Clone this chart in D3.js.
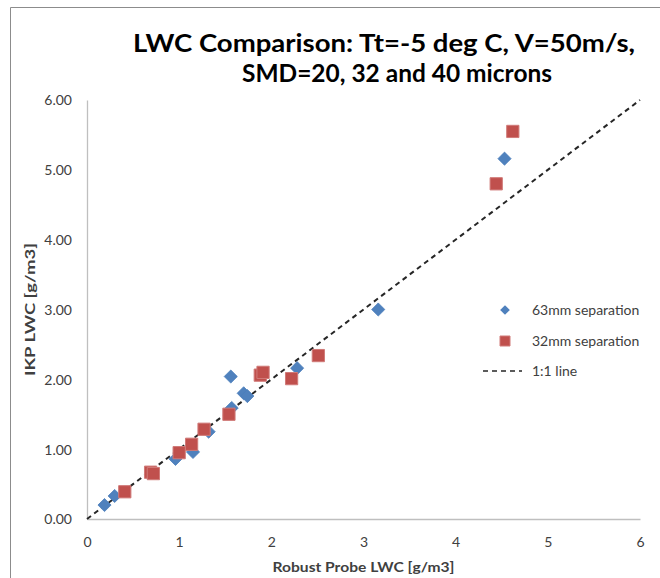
<!DOCTYPE html>
<html><head><meta charset="utf-8">
<script src="https://cdn.jsdelivr.net/npm/d3@7"></script>
<style>body{margin:0;background:#fff}svg{display:block}text{font-family:Lato,"Open Sans",sans-serif}</style>
</head><body><svg id="c" width="660" height="578"></svg>
<script>
const titleLines = ["LWC Comparison: Tt=-5 deg C, V=50m/s,", "SMD=20, 32 and 40 microns"];
const xLabel = "Robust Probe LWC [g/m3]";
const yLabel = "IKP LWC [g/m3]";
const xTicks = [0,1,2,3,4,5,6];
const yTicks = [0,1,2,3,4,5,6];
const series63x = [0.19,0.30,0.96,1.15,1.32,1.56,1.57,1.70,1.74,2.28,3.16,4.53];
const series63y = [0.20,0.33,0.86,0.96,1.25,2.04,1.59,1.80,1.76,2.16,3.00,5.16];
const series32x = [0.41,0.69,0.72,1.00,1.135,1.27,1.54,1.88,1.91,2.22,2.51,4.44,4.62];
const series32y = [0.39,0.67,0.65,0.95,1.07,1.285,1.50,2.06,2.10,2.01,2.34,4.80,5.55];
const legendNames = ["63mm separation","32mm separation","1:1 line"];
const oneToOne = [[0,0],[6,6]];

const svg = d3.select("#c");
const x = d3.scaleLinear().domain([0,6]).range([87,640]);
const y = d3.scaleLinear().domain([0,6]).range([519,100]);
const blue = "#4f81bd", red = "#c0504d";

svg.append("path").attr("d","M10.5,700 L10.5,7.5 L700,7.5").attr("fill","none").attr("stroke","#8c8c8c").attr("stroke-width",1);

const tW = [502, 310], tX = [133, 242], tY = [52, 82];
titleLines.forEach((t,i)=>{
  svg.append("text").attr("x",tX[i]).attr("y",tY[i]).attr("font-size",24).attr("font-weight","bold")
    .attr("fill","#000").attr("textLength",tW[i]).attr("lengthAdjust","spacingAndGlyphs").text(t);
});

const xa = svg.append("g").attr("transform",`translate(0,${y(0)})`).call(d3.axisBottom(x).tickValues(xTicks).tickSize(0).tickFormat(d3.format("d")));
const ya = svg.append("g").attr("transform",`translate(${x(0)},0)`).call(d3.axisLeft(y).tickValues(yTicks).tickSize(0).tickFormat(d3.format(".2f")));
[xa,ya].forEach(a=>{
  a.select(".domain").attr("stroke","#bfbfbf").attr("stroke-width",1.3);
  a.selectAll("text").attr("font-size",14).attr("fill","#404040").attr("font-family","Lato");
});
xa.selectAll("text").attr("dy","0").attr("y",28);
ya.selectAll("text").attr("x",-15).attr("dy","0.35em");

svg.append("text").attr("x",(x(0)+x(6))/2).attr("y",572).attr("text-anchor","middle").attr("font-size",14).attr("font-weight","bold").attr("fill","#404040")
  .attr("textLength",182).attr("lengthAdjust","spacingAndGlyphs").text(xLabel);
svg.append("text").attr("transform",`translate(35,${(y(0)+y(6))/2}) rotate(-90)`).attr("text-anchor","middle").attr("font-size",14).attr("font-weight","bold").attr("fill","#404040")
  .attr("textLength",133).attr("lengthAdjust","spacingAndGlyphs").text(yLabel);

svg.append("path").datum(oneToOne).attr("d",d3.line().x(d=>x(d[0])).y(d=>y(d[1])))
  .attr("fill","none").attr("stroke","#262626").attr("stroke-width",2).attr("stroke-dasharray","5,4");

const d63 = series63x.map((v,i)=>[v,series63y[i]]);
const d32 = series32x.map((v,i)=>[v,series32y[i]]);
const diamond = d3.symbol().type(d3.symbolDiamond2).size(110);
const square = d3.symbol().type(d3.symbolSquare).size(150);
svg.append("g").selectAll("path").data(d63).join("path").attr("d",diamond)
  .attr("transform",d=>`translate(${x(d[0])},${y(d[1])})`).attr("fill",blue).attr("stroke","#4a7ebb").attr("stroke-width",0.8);
svg.append("g").selectAll("path").data(d32).join("path").attr("d",square)
  .attr("transform",d=>`translate(${x(d[0])},${y(d[1])})`).attr("fill",red).attr("stroke","#d07a78").attr("stroke-width",1);

const lg = svg.append("g");
const ly = [310, 341, 371];
lg.append("path").attr("d",d3.symbol().type(d3.symbolDiamond2).size(60)).attr("transform",`translate(505,${ly[0]})`).attr("fill",blue);
lg.append("path").attr("d",d3.symbol().type(d3.symbolSquare).size(100)).attr("transform",`translate(505,${ly[1]})`).attr("fill",red).attr("stroke","#d07a78");
lg.append("line").attr("x1",483).attr("x2",522).attr("y1",ly[2]).attr("y2",ly[2]).attr("stroke","#262626").attr("stroke-width",1.5).attr("stroke-dasharray","5,4");
legendNames.forEach((n,i)=>{
  lg.append("text").attr("x",532).attr("y",ly[i]).attr("dy","0.35em").attr("font-size",14).attr("fill","#404040").text(n);
});
</script></body></html>
